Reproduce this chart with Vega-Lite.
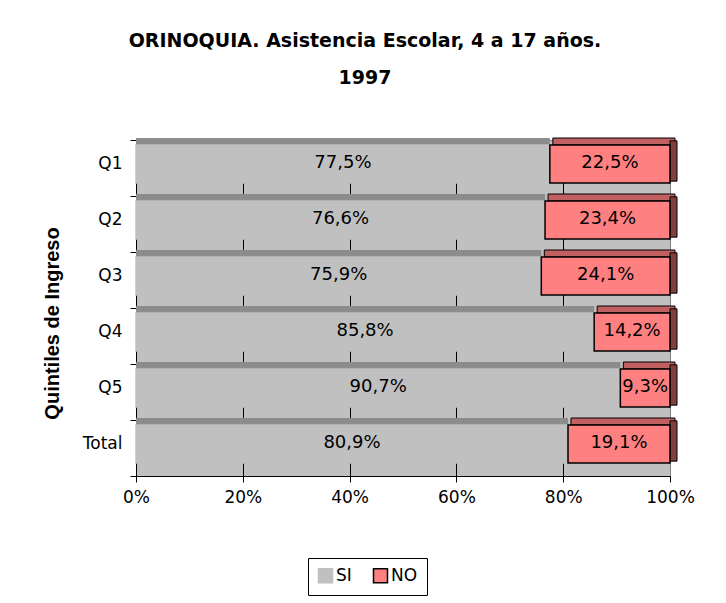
{
  "$schema": "https://vega.github.io/schema/vega-lite/v6.json",
  "width": 534,
  "height": 336,
  "autosize": {"type": "none"},
  "padding": {"left": 136, "top": 140, "right": 56, "bottom": 127},
  "background": "white",
  "title": {
    "text": ["ORINOQUIA. Asistencia Escolar, 4 a 17 años.", "1997"],
    "font": "DejaVu Sans",
    "fontSize": 19,
    "fontWeight": "bold",
    "lineHeight": 37,
    "anchor": "middle",
    "frame": "group",
    "dx": -38,
    "offset": 43,
    "color": "black"
  },
  "data": {
    "values": [
      {"q": "Q1", "tipo": "SI", "orden": 1, "pct": 0.775},
      {"q": "Q1", "tipo": "NO", "orden": 2, "pct": 0.225},
      {"q": "Q2", "tipo": "SI", "orden": 1, "pct": 0.766},
      {"q": "Q2", "tipo": "NO", "orden": 2, "pct": 0.234},
      {"q": "Q3", "tipo": "SI", "orden": 1, "pct": 0.759},
      {"q": "Q3", "tipo": "NO", "orden": 2, "pct": 0.241},
      {"q": "Q4", "tipo": "SI", "orden": 1, "pct": 0.858},
      {"q": "Q4", "tipo": "NO", "orden": 2, "pct": 0.142},
      {"q": "Q5", "tipo": "SI", "orden": 1, "pct": 0.907},
      {"q": "Q5", "tipo": "NO", "orden": 2, "pct": 0.093},
      {"q": "Total", "tipo": "SI", "orden": 1, "pct": 0.809},
      {"q": "Total", "tipo": "NO", "orden": 2, "pct": 0.191}
    ]
  },
  "transform": [
    {"stack": "pct", "groupby": ["q"], "sort": [{"field": "orden"}], "as": ["x0", "x1"]},
    {"calculate": "(datum.x0 + datum.x1) / 2", "as": "xm"}
  ],
  "encoding": {
    "y": {
      "field": "q",
      "type": "nominal",
      "sort": ["Q1", "Q2", "Q3", "Q4", "Q5", "Total"],
      "scale": {"paddingInner": 0, "paddingOuter": 0},
      "axis": {
        "title": "Quintiles de Ingreso",
        "titleFont": "Liberation Sans",
        "titleFontSize": 20,
        "titleFontWeight": "bold",
        "titleColor": "black",
        "titleAngle": 270,
        "titleX": -84,
        "titleY": 183,
        "titleAlign": "center",
        "titleBaseline": "middle",
        "labelFont": "DejaVu Sans",
        "labelFontSize": 17,
        "labelColor": "black",
        "labelPadding": 8,
        "labelOffset": -5,
        "tickBand": "extent",
        "tickSize": 6,
        "tickColor": "black",
        "domainColor": "black",
        "grid": false
      }
    }
  },
  "layer": [
    {
      "transform": [{"filter": "datum.tipo == 'SI'"}],
      "mark": {"type": "bar", "height": {"band": 0.125}, "yOffset": -26.5, "color": "#8C8C8C"},
      "encoding": {
        "x": {
          "field": "x0",
          "type": "quantitative",
          "scale": {"domain": [0, 1]},
          "axis": {
            "title": null,
            "format": ".0%",
            "values": [0, 0.2, 0.4, 0.6, 0.8, 1],
            "labelFlush": false,
            "grid": true,
            "gridColor": "black",
            "gridOpacity": {"condition": {"test": "datum.value <= 0 || datum.value >= 1", "value": 0}, "value": 1},
            "tickSize": 6,
            "tickColor": "black",
            "domainColor": "black",
            "labelFont": "DejaVu Sans",
            "labelFontSize": 17,
            "labelColor": "black",
            "labelPadding": 7
          }
        },
        "x2": {"field": "x1"}
      }
    },
    {
      "transform": [{"filter": "datum.tipo == 'NO'"}],
      "mark": {"type": "bar", "height": {"band": 0.125}, "yOffset": -26.5, "xOffset": 3, "x2Offset": 5, "fill": "#C06060", "stroke": "black", "strokeWidth": 1},
      "encoding": {
        "x": {"field": "x0", "type": "quantitative"},
        "x2": {"field": "x1"}
      }
    },
    {
      "transform": [{"filter": "datum.tipo == 'NO'"}],
      "mark": {"type": "bar", "height": {"band": 0.72}, "yOffset": -7, "x2Offset": 7, "fill": "#804040", "stroke": "black", "strokeWidth": 1},
      "encoding": {
        "x": {"datum": 1, "type": "quantitative"},
        "x2": {"datum": 1}
      }
    },
    {
      "mark": {"type": "bar", "height": {"band": 0.68}, "yOffset": -4, "strokeWidth": 1.5},
      "encoding": {
        "x": {"field": "x0", "type": "quantitative"},
        "x2": {"field": "x1"},
        "fill": {
          "field": "tipo",
          "type": "nominal",
          "scale": {"domain": ["SI", "NO"], "range": ["#C0C0C0", "#FF8080"]},
          "legend": {
            "title": null,
            "orient": "none",
            "legendX": 172,
            "legendY": 418,
            "direction": "horizontal",
            "symbolType": "square",
            "symbolSize": 196,
            "symbolStrokeWidth": 1.5,
            "strokeColor": "black",
            "fillColor": "white",
            "padding": 9,
            "labelFont": "DejaVu Sans",
            "labelFontSize": 17,
            "labelColor": "black",
            "columnPadding": 18,
            "labelOffset": 2
          }
        },
        "stroke": {
          "field": "tipo",
          "type": "nominal",
          "scale": {"domain": ["SI", "NO"], "range": ["#C0C0C0", "#000000"]},
          "legend": {
            "title": null,
            "orient": "none",
            "legendX": 172,
            "legendY": 418,
            "direction": "horizontal",
            "symbolType": "square",
            "symbolSize": 196,
            "symbolStrokeWidth": 1.5,
            "strokeColor": "black",
            "fillColor": "white",
            "padding": 9,
            "labelFont": "DejaVu Sans",
            "labelFontSize": 17,
            "labelColor": "black",
            "columnPadding": 18,
            "labelOffset": 2
          }
        }
      }
    },
    {
      "mark": {"type": "text", "font": "DejaVu Sans", "fontSize": 18, "color": "black", "yOffset": -5, "baseline": "middle", "align": "center"},
      "encoding": {
        "x": {"field": "xm", "type": "quantitative"},
        "text": {"field": "pct", "type": "quantitative", "format": ".1%"}
      }
    }
  ],
  "config": {
    "locale": {"number": {"decimal": ",", "thousands": ".", "grouping": [3], "currency": ["", " €"]}},
    "view": {"fill": "#C0C0C0", "stroke": "#808080", "strokeWidth": 1}
  }
}
